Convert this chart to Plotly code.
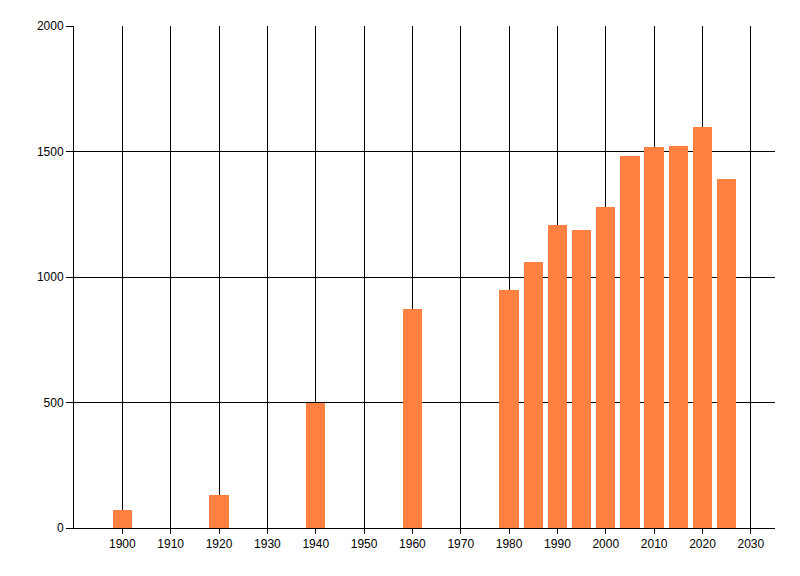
import plotly.graph_objects as go

years = [1900, 1920, 1940, 1960, 1980, 1985, 1990, 1995, 2000, 2005, 2010, 2015, 2020, 2025]
values = [72, 132, 500, 874, 950, 1060, 1208, 1188, 1277, 1481, 1517, 1521, 1597, 1389]

x_ticks = list(range(1900, 2031, 10))
y_ticks = [0, 500, 1000, 1500, 2000]

fig = go.Figure()
fig.add_trace(go.Bar(
    x=years,
    y=values,
    width=4,
    marker=dict(color="#FF8040", line=dict(width=0)),
))

fig.update_xaxes(
    range=[1890, 2035],
    tickvals=x_ticks,
    ticktext=[str(t) for t in x_ticks],
    showgrid=True,
    gridcolor="black",
    gridwidth=1,
    showline=True,
    linecolor="black",
    linewidth=1,
    ticks="outside",
    ticklen=5,
    tickcolor="black",
    zeroline=False,
)
fig.update_yaxes(
    range=[0, 2000],
    tickvals=y_ticks,
    ticktext=[str(t) for t in y_ticks],
    showgrid=True,
    gridcolor="black",
    gridwidth=1,
    showline=True,
    linecolor="black",
    linewidth=1,
    ticks="outside",
    ticklen=7,
    tickcolor="black",
    zeroline=False,
)

# page puts the figure 8px in from the corner, so margins are shifted to compensate
fig.update_layout(
    width=800,
    height=576,
    paper_bgcolor="white",
    plot_bgcolor="white",
    margin=dict(l=66, r=33, t=18, b=56),
    font=dict(family="Liberation Sans, Arial, sans-serif", size=12, color="black"),
    showlegend=False,
    bargap=0,
)

fig.write_html("out.html")
